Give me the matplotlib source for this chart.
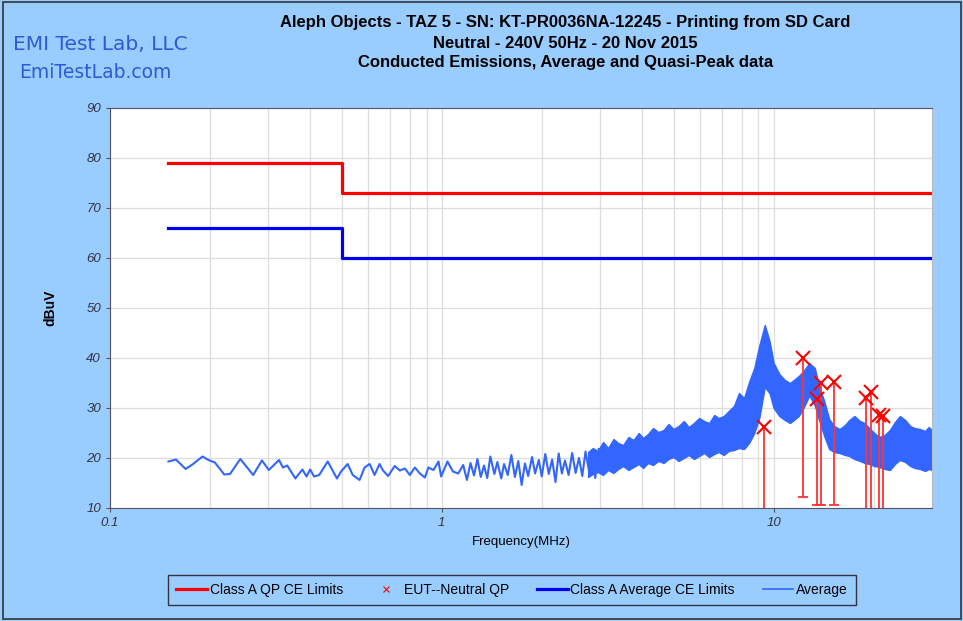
import matplotlib
matplotlib.use("Agg")
import matplotlib.pyplot as plt
from matplotlib.lines import Line2D
from matplotlib.patches import Rectangle
import matplotlib.ticker as mticker

# ── data ────────────────────────────────────────────────────
qp_lim_f = [0.15, 0.5, 0.5, 30]
qp_lim_db = [79, 79, 73, 73]
avg_lim_f = [0.15, 0.5, 0.5, 30]
avg_lim_db = [66, 66, 60, 60]

# quasi-peak measurements (MHz, dBuV) and lower end of their drop lines
qp_f = [9.33, 12.25, 13.54, 13.92, 15.19, 19.02, 19.70, 20.82, 21.35]
qp_db = [26.2, 40.1, 31.8, 35.1, 35.3, 32.1, 33.3, 28.7, 28.5]
qp_low = [5.0, 12.3, 10.6, 10.6, 10.6, 5.0, 5.0, 5.0, 5.0]

# average trace, sparse part (0.15 - 3 MHz)
avg_f = [0.150, 0.158, 0.169, 0.178, 0.190, 0.198, 0.207, 0.221, 0.230, 0.247,
         0.259, 0.270, 0.287, 0.301, 0.323, 0.332, 0.342, 0.362, 0.380, 0.391,
         0.401, 0.412, 0.427, 0.453, 0.483, 0.497, 0.520, 0.539, 0.565, 0.585,
         0.606, 0.627, 0.649, 0.665, 0.689, 0.721, 0.747, 0.774, 0.801, 0.829,
         0.859, 0.889, 0.911, 0.944, 0.977, 0.995, 1.04, 1.08, 1.12, 1.16,
         1.19, 1.22, 1.25, 1.28, 1.31, 1.34, 1.37, 1.40, 1.44, 1.47,
         1.51, 1.54, 1.58, 1.62, 1.66, 1.70, 1.74, 1.78, 1.82, 1.87,
         1.91, 1.96, 2.00, 2.05, 2.10, 2.15, 2.20, 2.25, 2.30, 2.35,
         2.41, 2.47, 2.53, 2.59, 2.65, 2.71, 2.78, 2.84, 2.90, 2.97]
avg_db = [19.3, 19.7, 17.8, 18.8, 20.3, 19.6, 19.1, 16.7, 16.8, 19.8,
          18.1, 16.6, 19.5, 17.6, 19.6, 18.1, 18.5, 15.9, 17.7, 16.3,
          17.7, 16.3, 16.6, 19.3, 15.9, 17.3, 18.8, 16.6, 15.6, 18.1,
          18.8, 16.6, 18.8, 17.5, 16.4, 18.4, 17.5, 17.9, 16.6, 18.1,
          16.9, 16.1, 18.1, 17.6, 19.3, 16.3, 19.3, 17.3, 16.9, 18.6,
          15.6, 19.0, 16.5, 19.8, 16.2, 18.5, 16.0, 20.3, 16.8, 19.2,
          15.9, 18.8, 16.6, 20.6, 16.2, 19.4, 14.6, 18.9, 16.4, 20.2,
          16.9, 19.6, 16.3, 20.8, 16.8, 19.7, 15.2, 20.9, 16.9, 19.5,
          16.6, 21.0, 17.0, 20.0, 16.4, 21.3, 17.2, 20.6, 16.0, 21.8]

# average trace, dense part (2.8 - 30 MHz): upper / lower envelope of the band
band_f = [2.76, 2.85, 2.95, 3.06, 3.17, 3.29, 3.40, 3.52, 3.65, 3.78,
          3.92, 4.04, 4.18, 4.33, 4.49, 4.66, 4.82, 4.99, 5.17, 5.36,
          5.55, 5.75, 5.96, 6.17, 6.39, 6.62, 6.83, 7.07, 7.32, 7.59,
          7.86, 8.14, 8.43, 8.74, 9.05, 9.40, 9.71, 10.0, 10.4, 10.8,
          11.2, 11.6, 11.9, 12.3, 12.8, 13.3, 13.7, 14.2, 14.7, 15.2,
          15.8, 16.4, 16.9, 17.5, 18.2, 18.8, 19.4, 20.1, 20.8, 21.6,
          22.4, 23.2, 24.0, 24.9, 25.8, 26.6, 27.6, 28.6, 29.3, 30.0]
band_hi = [21.2, 22.0, 21.4, 23.2, 22.0, 23.8, 23.0, 22.6, 24.2, 23.6,
           25.0, 24.0, 24.8, 26.0, 25.2, 25.6, 26.8, 25.8, 26.4, 27.4,
           26.2, 27.0, 28.0, 27.4, 27.0, 28.6, 28.0, 28.4, 29.4, 30.4,
           33.0, 32.0, 35.2, 38.0, 42.5, 46.6, 43.5, 39.0, 36.8, 35.6,
           35.0, 35.8, 36.4, 37.4, 39.0, 38.0, 34.4, 31.4, 27.8, 26.4,
           25.8, 26.6, 27.6, 28.4, 27.4, 27.0, 26.0, 25.0, 24.2, 24.6,
           25.6, 27.2, 28.4, 27.6, 26.4, 26.0, 25.8, 25.4, 26.2, 25.6]
band_lo = [16.2, 16.8, 17.2, 16.6, 17.6, 17.0, 17.8, 18.4, 17.6, 18.2,
           18.8, 18.0, 19.0, 18.6, 19.4, 19.0, 19.8, 20.2, 19.4, 20.0,
           20.6, 19.8, 20.4, 21.0, 20.2, 20.8, 21.2, 20.6, 21.4, 21.6,
           22.0, 21.8, 23.0, 25.0, 28.0, 34.2, 33.0, 30.0, 28.4, 27.6,
           27.0, 27.8, 28.4, 30.0, 32.5, 30.5, 27.6, 24.4, 21.8, 21.2,
           21.0, 20.6, 20.4, 19.8, 19.4, 19.0, 18.8, 18.4, 18.2, 17.8,
           17.6, 18.8, 19.6, 19.2, 18.4, 18.0, 17.8, 17.4, 17.8, 17.6]

x_ticks = [0.1, 1, 10]
x_tick_labels = ["0.1", "1", "10"]
y_ticks = [10, 20, 30, 40, 50, 60, 70, 80, 90]

# ── styling ─────────────────────────────────────────────────
BG = "#99CCFF"
RED = "#FF0000"
BLUE = "#0000EE"
TRACE = "#3366FF"
plt.rcParams["font.family"] = ["Liberation Sans", "DejaVu Sans"]

fig = plt.figure(figsize=(9.63, 6.21), dpi=100, facecolor=BG)
fig.patches.append(Rectangle((0.003, 0.004), 0.995, 0.992, transform=fig.transFigure,
                             fill=False, edgecolor="#333333", linewidth=1.2))

ax = fig.add_axes([110 / 963, 1 - 508 / 621, 822 / 963, 400 / 621])
ax.set_facecolor("white")

ax.plot(qp_lim_f, qp_lim_db, color=RED, linewidth=2.3, label="Class A QP CE Limits")
ax.plot(avg_lim_f, avg_lim_db, color=BLUE, linewidth=2.3, label="Class A Average CE Limits")

ax.plot(avg_f, avg_db, color=TRACE, linewidth=1.5, label="Average")
ax.fill_between(band_f, band_lo, band_hi, color=TRACE, linewidth=1.0, edgecolor=TRACE)

ax.vlines(qp_f, qp_low, qp_db, color="#FF3333", linewidth=1.3)
ax.plot(qp_f, qp_low, linestyle="none", marker="_", markersize=7,
        markeredgewidth=1.3, color="#FF3333")
ax.plot(qp_f, qp_db, linestyle="none", marker="x", markersize=10,
        markeredgewidth=1.5, color=RED, label="EUT--Neutral QP")

ax.set_xscale("log")
ax.set_xlim(0.1, 30)
ax.set_ylim(10, 90)
ax.set_xticks(x_ticks)
ax.set_xticklabels(x_tick_labels)
ax.xaxis.set_minor_locator(mticker.LogLocator(base=10, subs=range(2, 10)))
ax.xaxis.set_minor_formatter(mticker.NullFormatter())
ax.set_yticks(y_ticks)
ax.grid(True, which="both", color="#DDDDDD", linewidth=0.9)
ax.set_axisbelow(True)
ax.tick_params(axis="both", which="major", length=3, color="#555555",
               labelsize=9.5, labelcolor="#333344")
ax.tick_params(axis="x", which="minor", length=0)
for lab in ax.get_xticklabels() + ax.get_yticklabels():
    lab.set_fontstyle("italic")
for side in ["left", "bottom", "top"]:
    ax.spines[side].set_color("#555566")
ax.spines["right"].set_color("#BBBBBB")

ax.set_xlabel("Frequency(MHz)", fontsize=9.5, labelpad=5)
ax.set_ylabel("dBuV", fontsize=10, fontweight="bold", labelpad=21)

title_lines = ["Aleph Objects - TAZ 5 - SN: KT-PR0036NA-12245 - Printing from SD Card",
               "Neutral - 240V 50Hz - 20 Nov 2015",
               "Conducted Emissions, Average and Quasi-Peak data"]
for txt, ypx in zip(title_lines, [22, 43, 62]):
    fig.text(0.587, 1 - ypx / 621, txt, ha="center", va="center",
             fontsize=12, fontweight="bold")

fig.text(13 / 963, 1 - 45 / 621, "EMI Test Lab, LLC", ha="left", va="center",
         fontsize=14.5, color="#2B5CD6", family="DejaVu Sans")
fig.text(19 / 963, 1 - 72 / 621, "EmiTestLab.com", ha="left", va="center",
         fontsize=13.5, color="#2B5CD6", family="DejaVu Sans")

handles = [
    Line2D([], [], color=RED, linewidth=2.3),
    Line2D([], [], color=RED, linestyle="none", marker="x", markersize=5, markeredgewidth=0.8),
    Line2D([], [], color=BLUE, linewidth=2.3),
    Line2D([], [], color=TRACE, linewidth=1.2),
]
labels = ["Class A QP CE Limits", "EUT--Neutral QP", "Class A Average CE Limits", "Average"]
leg = fig.legend(handles, labels, loc="center", bbox_to_anchor=(512 / 963, 1 - 590 / 621),
                 ncol=4, fontsize=10, frameon=True, fancybox=False, framealpha=1,
                 facecolor=BG, edgecolor="#333344", handlelength=2.2,
                 handletextpad=0.2, columnspacing=2.0, borderpad=0.6)
leg.get_frame().set_linewidth(1.0)

fig.savefig("out.png", dpi=100, facecolor=BG)
